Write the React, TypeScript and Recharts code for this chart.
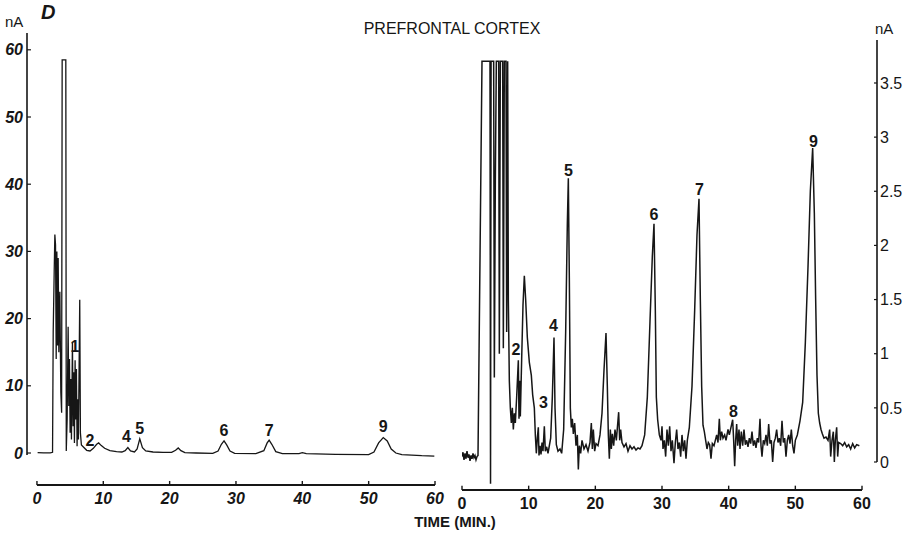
import React from 'react';
import { LineChart, Line, XAxis, YAxis, ReferenceLine, ReferenceDot } from 'recharts';

// retention time (min) and detector current (nA)
const leftTrace: [number, number][] = [
  [0.1, 0.05], [1, 0.03], [2, 0.02], [2.35, 0.1], [2.45, 18], [2.6, 27], [2.7, 32.5], [2.8, 31],
  [2.9, 14], [3.0, 30], [3.1, 16], [3.2, 29], [3.3, 15], [3.45, 24], [3.6, 9], [3.72, 6],
  [3.8, 58.5], [4.35, 58.5], [4.42, 0.3], [4.55, 5], [4.7, 18.8], [4.8, 7], [4.9, 14], [5.0, 3],
  [5.1, 11], [5.2, 2], [5.35, 16.5], [5.45, 4], [5.55, 12], [5.65, 1.5], [5.75, 13.8], [5.85, 5],
  [5.95, 12.5], [6.05, 1], [6.15, 8], [6.25, 2], [6.45, 22.8], [6.55, 3], [6.7, 1.2], [7.0, 0.9],
  [7.5, 0.4], [8.0, 0.3], [8.5, 0.7], [9.0, 1.3], [9.3, 1.5], [9.7, 1.1], [10.2, 0.7], [11, 0.35],
  [12, 0.2], [12.8, 0.15], [13.3, 0.35], [13.7, 0.8], [14.1, 0.3], [14.7, 0.15], [15.1, 0.6],
  [15.5, 2.1], [15.9, 0.8], [16.4, 0.3], [17.5, 0.15], [19, 0.1], [20.3, 0.1], [20.9, 0.4],
  [21.3, 0.75], [21.7, 0.35], [22.3, 0.05], [24, 0.0], [26.5, -0.05], [27.3, 0.3], [27.8, 1.3],
  [28.2, 1.8], [28.6, 1.2], [29.1, 0.3], [29.8, -0.05], [33, -0.1], [34.2, 0.35], [34.7, 1.5],
  [35.0, 1.9], [35.4, 1.3], [36, 0.2], [37, -0.1], [39.5, -0.1], [40, 0.05], [40.6, -0.1],
  [45, -0.2], [50, -0.25], [50.8, 0.15], [51.5, 1.5], [52.2, 2.3], [52.8, 1.8], [53.4, 0.6],
  [54.1, 0], [55, -0.25], [58, -0.4], [59.9, -0.45],
];

const rightTrace: [number, number][] = [
  [0, 0.05], [0.15, 0.09], [0.3, 0.02], [0.45, 0.08], [0.6, 0.03], [0.75, 0.1], [0.9, 0.04],
  [1.05, 0.07], [1.2, 0.01], [1.35, 0.06], [1.5, 0.03], [1.65, 0.08], [1.8, 0.04], [1.95, 0.06],
  [2.1, 0.02], [2.25, 0.05], [2.4, 0.06], [3.0, 3.7], [4.2, 3.7], [4.28, -0.2], [4.36, 3.7],
  [4.75, 3.7], [4.85, 0.78], [5.0, 2.6], [5.15, 3.7], [5.5, 3.7], [5.6, 1.0], [5.75, 3.7],
  [6.1, 3.7], [6.2, 1.05], [6.35, 3.7], [6.6, 3.7], [6.7, 1.2], [6.85, 3.7], [6.95, 1.5],
  [7.1, 0.75], [7.25, 0.5], [7.4, 0.36], [7.55, 0.5], [7.7, 0.3], [7.85, 0.45], [8.0, 0.36],
  [8.2, 0.6], [8.45, 0.94], [8.55, 0.4], [8.65, 0.75], [8.75, 0.42], [8.95, 0.95], [9.15, 1.45],
  [9.35, 1.72], [9.55, 1.5], [9.8, 1.15], [10.1, 0.92], [10.4, 0.8], [10.6, 0.62], [10.85, 0.5],
  [11.0, 0.25], [11.15, 0.08], [11.3, 0.22], [11.45, 0.32], [11.55, 0.06], [11.7, 0.15],
  [11.85, 0.07], [12.0, 0.18], [12.15, 0.1], [12.35, 0.33], [12.5, 0.1], [12.7, 0.14],
  [12.9, 0.08], [13.1, 0.15], [13.3, 0.22], [13.55, 0.6], [13.8, 1.15], [13.95, 0.5],
  [14.15, 0.16], [14.4, 0.1], [14.7, 0.12], [14.95, 0.08], [15.25, 0.3], [15.55, 1.2],
  [15.8, 2.2], [15.95, 2.62], [16.1, 1.7], [16.25, 0.5], [16.4, 0.32], [16.55, 0.4], [16.7, 0.26],
  [16.9, 0.36], [17.1, 0.15], [17.3, 0.25], [17.45, -0.07], [17.6, 0.15], [17.8, 0.08],
  [18.0, 0.2], [18.3, 0.12], [18.6, 0.16], [18.9, 0.1], [19.2, 0.18], [19.4, 0.36], [19.55, 0.12],
  [19.7, 0.3], [19.9, 0.1], [20.1, 0.17], [20.4, 0.15], [20.7, 0.25], [21.0, 0.45], [21.3, 0.85],
  [21.6, 1.19], [21.8, 0.7], [21.95, 0.25], [22.1, 0.03], [22.25, 0.3], [22.4, 0.12],
  [22.55, 0.26], [22.75, 0.15], [22.95, 0.3], [23.15, 0.2], [23.35, 0.35], [23.5, 0.46],
  [23.65, 0.2], [23.8, 0.3], [24.0, 0.18], [24.3, 0.14], [24.6, 0.17], [24.9, 0.1], [25.2, 0.15],
  [25.5, 0.12], [25.8, 0.14], [26.1, 0.11], [26.4, 0.13], [26.7, 0.12], [27.0, 0.15],
  [27.4, 0.25], [27.8, 0.6], [28.2, 1.3], [28.55, 1.9], [28.8, 2.2], [29.0, 1.4], [29.15, 0.6],
  [29.35, 0.39], [29.6, 0.25], [29.85, 0.2], [30.0, 0.33], [30.15, 0.12], [30.35, 0.2],
  [30.55, 0.05], [30.75, 0.3], [30.95, 0.15], [31.15, 0.33], [31.35, 0.1], [31.55, 0.2],
  [31.8, -0.01], [32.0, 0.18], [32.2, 0.3], [32.4, 0.12], [32.6, 0.18], [32.8, 0.05],
  [33.0, 0.25], [33.2, 0.1], [33.4, 0.2], [33.6, 0.03], [33.8, 0.2], [34.1, 0.32], [34.5, 0.7],
  [34.9, 1.4], [35.25, 2.1], [35.55, 2.43], [35.75, 1.5], [35.95, 0.7], [36.15, 0.34],
  [36.35, 0.28], [36.55, 0.2], [36.75, 0.12], [36.95, 0.18], [37.15, 0.16], [37.35, 0.03],
  [37.55, 0.17], [37.8, 0.15], [38.0, 0.2], [38.2, 0.25], [38.4, 0.18], [38.6, 0.4], [38.75, 0.2],
  [38.95, 0.28], [39.15, 0.22], [39.4, 0.25], [39.6, 0.2], [39.9, 0.3], [40.1, 0.25],
  [40.6, 0.39], [40.75, 0.2], [40.9, -0.04], [41.05, 0.2], [41.2, 0.35], [41.35, 0.15],
  [41.55, 0.3], [41.7, 0.12], [41.9, 0.28], [42.1, 0.15], [42.3, 0.3], [42.5, 0.16], [42.7, 0.2],
  [42.9, 0.14], [43.1, 0.22], [43.3, 0.17], [43.5, 0.28], [43.7, 0.15], [43.9, 0.2], [44.1, 0.13],
  [44.3, 0.22], [44.5, 0.18], [44.7, 0.4], [44.85, 0.15], [45.0, 0.05], [45.2, 0.2], [45.4, 0.17],
  [45.6, 0.25], [45.8, 0.15], [46.0, 0.35], [46.2, 0.17], [46.4, 0.2], [46.6, 0.0], [46.8, 0.18],
  [47.0, 0.22], [47.2, 0.3], [47.4, 0.18], [47.6, 0.22], [47.8, 0.15], [48.0, 0.38], [48.2, 0.18],
  [48.4, 0.22], [48.6, 0.05], [48.8, 0.2], [49.0, 0.25], [49.2, 0.17], [49.4, 0.3], [49.6, 0.15],
  [49.8, 0.08], [50.0, 0.2], [50.3, 0.25], [50.7, 0.38], [51.1, 0.55], [51.5, 1.1], [51.9, 1.8],
  [52.25, 2.5], [52.6, 2.9], [52.85, 2.3], [53.05, 1.5], [53.25, 0.8], [53.45, 0.45],
  [53.65, 0.36], [53.85, 0.3], [54.05, 0.26], [54.3, 0.22], [54.6, 0.23], [54.9, 0.2],
  [55.15, 0.3], [55.3, 0.05], [55.5, 0.2], [55.7, 0.28], [55.85, 0.0], [56.0, 0.2], [56.2, 0.32],
  [56.35, 0.05], [56.5, 0.18], [56.8, 0.17], [57.1, 0.15], [57.4, 0.18], [57.7, 0.14],
  [58.0, 0.16], [58.3, 0.12], [58.6, 0.17], [58.9, 0.13], [59.2, 0.16], [59.6, 0.15],
];

const timeTicks = [0, 10, 20, 30, 40, 50, 60];
const leftTicks = [0, 10, 20, 30, 40, 50, 60];
const rightTicks = [0, 0.5, 1, 1.5, 2, 2.5, 3, 3.5];

// numbered peak labels: time, height, name
const leftPeaks = [
  { t: 5.73, v: 15.8, name: '1' },
  { t: 8.0, v: 1.9, name: '2' },
  { t: 13.5, v: 2.4, name: '4' },
  { t: 15.5, v: 3.7, name: '5' },
  { t: 28.2, v: 3.3, name: '6' },
  { t: 35.0, v: 3.3, name: '7' },
  { t: 52.2, v: 3.9, name: '9' },
];
const rightPeaks = [
  { t: 8.1, v: 1.04, name: '2' },
  { t: 12.2, v: 0.55, name: '3' },
  { t: 13.7, v: 1.26, name: '4' },
  { t: 15.95, v: 2.69, name: '5' },
  { t: 28.8, v: 2.29, name: '6' },
  { t: 35.6, v: 2.52, name: '7' },
  { t: 40.7, v: 0.47, name: '8' },
  { t: 52.7, v: 2.96, name: '9' },
];

const INK = '#161616';
const FONT = '"Liberation Sans", Arial, sans-serif';

const toRows = (trace: [number, number][]) => trace.map(([t, v]) => ({ t, v }));

const peakShape = (name: string) => (props: any) => (
  <text
    x={props.cx}
    y={props.cy}
    textAnchor="middle"
    dominantBaseline="central"
    fontSize={16}
    fontWeight="bold"
    fontFamily={FONT}
    fill={INK}
  >
    {name}
  </text>
);

const LEFT_MIN = -4.76;
const RIGHT_MIN = -0.2586;

export default function App() {
  return (
    <div style={{ position: 'absolute', left: 0, top: 0, width: 912, height: 536, background: '#fff', fontFamily: FONT, color: INK }}>
      <div style={{ position: 'absolute', left: 0, top: 0 }}>
        <LineChart width={456} height={536} data={toRows(leftTrace)} margin={{ top: 33, right: 21, bottom: 21, left: 0 }}>
          <XAxis
            dataKey="t"
            type="number"
            domain={[-1.5, 60]}
            ticks={timeTicks}
            allowDataOverflow
            axisLine={false}
            tickLine={false}
            tickSize={0}
            tickMargin={8}
            height={30}
            tick={{ fontSize: 16, fontStyle: 'italic', fontWeight: 'bold', fill: INK, fontFamily: FONT }}
          />
          <YAxis
            type="number"
            domain={[LEFT_MIN, 62.5]}
            ticks={leftTicks}
            allowDataOverflow
            width={27}
            axisLine={false}
            tickLine={false}
            tickSize={0}
            tickMargin={4}
            tick={{ fontSize: 16, fontStyle: 'italic', fontWeight: 'bold', fill: INK, fontFamily: FONT }}
          />
          <ReferenceLine segment={[{ x: -1.5, y: -0.3 }, { x: -1.5, y: 62.5 }]} stroke={INK} strokeWidth={1.6} ifOverflow="visible" />
          {leftTicks.map((v) => (
            <ReferenceLine key={'ly' + v} segment={[{ x: -1.5, y: v }, { x: -0.9, y: v }]} stroke={INK} strokeWidth={1.2} ifOverflow="visible" />
          ))}
          <ReferenceLine segment={[{ x: 0, y: LEFT_MIN }, { x: 60, y: LEFT_MIN }]} stroke={INK} strokeWidth={1.8} ifOverflow="visible" />
          {timeTicks.map((t) => (
            <ReferenceLine key={'lx' + t} segment={[{ x: t, y: LEFT_MIN }, { x: t, y: LEFT_MIN + 0.6 }]} stroke={INK} strokeWidth={1.4} ifOverflow="visible" />
          ))}
          <Line dataKey="v" type="linear" dot={false} stroke={INK} strokeWidth={1.3} isAnimationActive={false} />
          {leftPeaks.map((p) => (
            <ReferenceDot key={'lp' + p.name} x={p.t} y={p.v} r={0} ifOverflow="visible" shape={peakShape(p.name)} />
          ))}
        </LineChart>
      </div>

      <div style={{ position: 'absolute', left: 450, top: 0 }}>
        <LineChart width={462} height={536} data={toRows(rightTrace)} margin={{ top: 40, right: 0, bottom: 16, left: 12 }}>
          <XAxis
            dataKey="t"
            type="number"
            domain={[0, 62.25]}
            ticks={timeTicks}
            allowDataOverflow
            axisLine={false}
            tickLine={false}
            tickSize={0}
            tickMargin={8}
            height={30}
            tick={{ fontSize: 16, fontWeight: 'bold', fill: INK, fontFamily: FONT }}
          />
          <YAxis
            type="number"
            orientation="right"
            domain={[RIGHT_MIN, 3.897]}
            ticks={rightTicks}
            allowDataOverflow
            width={35}
            axisLine={false}
            tickLine={false}
            tickSize={0}
            tickMargin={3}
            tick={{ fontSize: 16, fill: INK, fontFamily: FONT }}
          />
          <ReferenceLine segment={[{ x: 62.25, y: 0 }, { x: 62.25, y: 3.897 }]} stroke={INK} strokeWidth={1.6} ifOverflow="visible" />
          {rightTicks.map((v) => (
            <ReferenceLine key={'ry' + v} segment={[{ x: 61.8, y: v }, { x: 62.25, y: v }]} stroke={INK} strokeWidth={1.2} ifOverflow="visible" />
          ))}
          <ReferenceLine segment={[{ x: 0, y: RIGHT_MIN }, { x: 60, y: RIGHT_MIN }]} stroke={INK} strokeWidth={1.8} ifOverflow="visible" />
          {timeTicks.map((t) => (
            <ReferenceLine key={'rx' + t} segment={[{ x: t, y: RIGHT_MIN }, { x: t, y: RIGHT_MIN + 0.04 }]} stroke={INK} strokeWidth={1.4} ifOverflow="visible" />
          ))}
          <Line dataKey="v" type="linear" dot={false} stroke={INK} strokeWidth={1.5} isAnimationActive={false} />
          {rightPeaks.map((p) => (
            <ReferenceDot key={'rp' + p.name} x={p.t} y={p.v} r={0} ifOverflow="visible" shape={peakShape(p.name)} />
          ))}
        </LineChart>
      </div>

      <div style={{ position: 'absolute', left: 41, top: 1, fontSize: 20, fontWeight: 'bold', fontStyle: 'italic' }}>D</div>
      <div style={{ position: 'absolute', left: 5, top: 13, fontSize: 15 }}>nA</div>
      <div style={{ position: 'absolute', left: 875, top: 20, fontSize: 15 }}>nA</div>
      <div style={{ position: 'absolute', left: 452, top: 20, transform: 'translateX(-50%)', fontSize: 16, whiteSpace: 'nowrap' }}>
        PREFRONTAL CORTEX
      </div>
      <div style={{ position: 'absolute', left: 455, top: 513, transform: 'translateX(-50%)', fontSize: 15, fontWeight: 'bold', whiteSpace: 'nowrap' }}>
        TIME (MIN.)
      </div>
    </div>
  );
}
